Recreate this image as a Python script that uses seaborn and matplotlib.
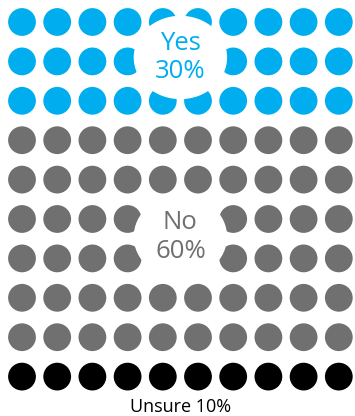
import matplotlib
matplotlib.use("Agg")
import matplotlib.pyplot as plt
from matplotlib.patches import Ellipse
import numpy as np
import pandas as pd
import seaborn as sns

# waffle data: 100 dots, one per percent
categories = ["Yes", "No", "Unsure"]
percents = [30, 60, 10]
colors = ["#00AEEF", "#707070", "#000000"]
n_cols = 10

sns.set_theme(style="white")
plt.rcParams["font.family"] = ["Open Sans", "DejaVu Sans"]

rows = []
i = 0
for cat, pct in zip(categories, percents):
    for _ in range(pct):
        rows.append({"cat": cat, "col": i % n_cols, "row": i // n_cols})
        i += 1
df = pd.DataFrame(rows)

fig = plt.figure(figsize=(3.55, 4.16), dpi=100)
ax = fig.add_axes([0, 0, 1, 1])
sns.scatterplot(data=df, x="col", y="row", hue="cat", hue_order=categories,
                palette=colors, s=400, linewidth=0, legend=False, ax=ax)

# pixel -> data: x = 22 + 35.2*col, y = 22 + 39.4*row
ax.set_xlim(-22 / 35.2, (355 - 22) / 35.2)
ax.set_ylim((416 - 22) / 39.4, -22 / 39.4)
ax.axis("off")

# labels with white ellipse behind
def label(cx, cy, text, color):
    ax.add_patch(Ellipse((cx, cy), 92 / 35.2, 82 / 39.4, color="white", zorder=3))
    ax.text(cx, cy, text, ha="center", va="center", color=color,
            fontsize=18.5, linespacing=1.2, zorder=4)

label(4.5, 0.9, f"{categories[0]}\n{percents[0]}%", colors[0])
label(4.5, 5.45, f"{categories[1]}\n{percents[1]}%", colors[1])
ax.text(4.5, (407 - 22) / 39.4, f"{categories[2]} {percents[2]}%", ha="center",
        va="center", color=colors[2], fontsize=13)

fig.savefig("out.png", dpi=100)
